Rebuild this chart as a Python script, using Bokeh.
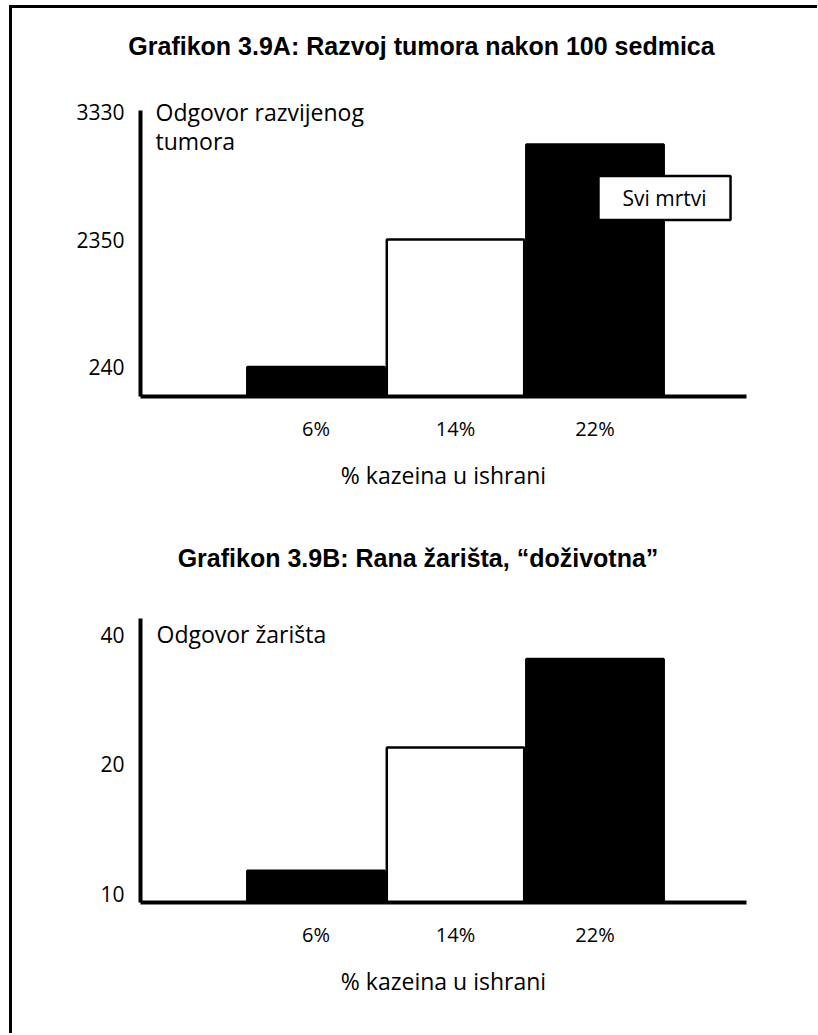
import numpy as np
from bokeh.plotting import figure
from bokeh.models import Label, FixedTicker, Range1d, BasicTickFormatter, ColumnDataSource
from bokeh.layouts import column
from bokeh.embed import file_html
from bokeh.resources import INLINE

# ---- data ----
categories = ["6%", "14%", "22%"]
bar_fills = ["black", "white", "black"]

title_a = "Grafikon 3.9A: Razvoj tumora nakon 100 sedmica"
ylabel_a = "Odgovor razvijenog\ntumora"
tumor_ticks = [240, 2350, 3330]
tumor_values = [240, 2350, 3080]
note_a = "Svi mrtvi"

title_b = "Grafikon 3.9B: Rana žarišta, “doživotna”"
ylabel_b = "Odgovor žarišta"
foci_ticks = [10, 20, 40]
foci_values = [11.3, 21.9, 35.2]

xlabel = "% kazeina u ishrani"

# ---- styles ----
FONT = "Open Sans"
TFONT = "Liberation Sans"
W = 805
XR = (-0.258, 4.086)


def header(text, x, y, height):
    h = figure(width=W, height=height, x_range=Range1d(0, 1), y_range=Range1d(0, 1),
               x_axis_location=None, y_axis_location=None, output_backend="svg",
               toolbar_location=None, title=None, min_border=0, frame_align=False)
    h.outline_line_color = None
    h.xgrid.visible = False
    h.ygrid.visible = False
    h.add_layout(Label(x=x, y=y, x_units="screen", y_units="screen", text=text,
                       text_align="center", text_baseline="middle", text_font=TFONT,
                       text_font_style="bold", text_font_size="25px", text_color="black"))
    return h


def style(p):
    p.outline_line_color = None
    p.xgrid.visible = False
    p.ygrid.visible = False
    p.background_fill_color = "white"
    p.border_fill_color = "white"
    for ax in (p.xaxis[0], p.yaxis[0]):
        ax.axis_line_width = 4
        ax.axis_line_color = "black"
        ax.major_tick_line_color = None
        ax.minor_tick_line_color = None
        ax.major_tick_out = 0
        ax.major_tick_in = 0
        ax.minor_tick_out = 0
        ax.major_label_text_font = FONT
        ax.major_label_text_color = "black"
        ax.major_label_text_font_size = "20px"
    p.yaxis[0].major_label_text_font_size = "21px"
    xa = p.xaxis[0]
    xa.ticker = FixedTicker(ticks=[1, 2, 3])
    xa.major_label_overrides = {i + 1: c for i, c in enumerate(categories)}
    xa.major_label_standoff = 18
    xa.axis_label = xlabel
    xa.axis_label_text_font = FONT
    xa.axis_label_text_font_style = "normal"
    xa.axis_label_text_font_size = "23px"
    xa.axis_label_text_color = "black"
    xa.axis_label_standoff = 14
    p.yaxis[0].major_label_standoff = 16


# ---- chart A ----
ha = header(title_a, 409, 48, 85)

ya_start, ya_end = -0.231, 2.145
pa = figure(width=W, height=422, x_range=Range1d(*XR), y_range=Range1d(ya_start, ya_end),
            output_backend="svg", toolbar_location=None, title=None,
            min_border_left=128, min_border_right=71, min_border_top=0, min_border_bottom=119)
style(pa)
idx = list(range(len(tumor_ticks)))
pos_a = np.interp(tumor_values, tumor_ticks, idx)
src_a = ColumnDataSource(dict(x=[1, 2, 3], top=pos_a, fill=bar_fills))
pa.vbar(x="x", top="top", bottom=ya_start, width=0.985, source=src_a,
        fill_color="fill", line_color="black", line_width=2.5)
pa.yaxis[0].ticker = FixedTicker(ticks=idx)
pa.yaxis[0].bounds = (ya_start, idx[-1] + 0.01)
pa.yaxis[0].major_label_overrides = {i: str(v) for i, v in zip(idx, tumor_ticks)}

pa.add_layout(Label(x=15, y=270, x_units="screen", y_units="screen", text=ylabel_a,
                    text_align="left", text_baseline="middle", text_font=FONT,
                    text_font_size="23px", text_line_height=0.89, text_color="black"))
pa.add_layout(Label(x=524, y=198.5, x_units="screen", y_units="screen", text=note_a,
                    text_align="center", text_baseline="middle", text_font=FONT,
                    text_font_size="21px", text_color="black",
                    background_fill_color="white", border_line_color="black",
                    border_line_width=2.5, padding=(24, 8)))

# ---- chart B ----
hb = header(title_b, 405.5, 43, 85)

yb_start, yb_end = 9.53, 48.2
pb = figure(width=W, height=433, x_range=Range1d(*XR), y_range=Range1d(yb_start, yb_end),
            y_axis_type="log", output_backend="svg", toolbar_location=None, title=None,
            min_border_left=128, min_border_right=71, min_border_top=0, min_border_bottom=131)
style(pb)
src_b = ColumnDataSource(dict(x=[1, 2, 3], top=foci_values, fill=bar_fills))
pb.vbar(x="x", top="top", bottom=yb_start, width=0.985, source=src_b,
        fill_color="fill", line_color="black", line_width=2.5)
pb.yaxis[0].ticker = FixedTicker(ticks=foci_ticks)
pb.yaxis[0].bounds = (yb_start, 43.8)
pb.yaxis[0].formatter = BasicTickFormatter()
pb.yaxis[0].major_label_overrides = {v: str(v) for v in foci_ticks}

pb.add_layout(Label(x=16, y=269, x_units="screen", y_units="screen", text=ylabel_b,
                    text_align="left", text_baseline="middle", text_font=FONT,
                    text_font_size="23px", text_color="black"))

layout = column(ha, pa, hb, pb, margin=(5, 0, 0, 9),
                styles={"border-top": "3px solid black", "border-left": "3px solid black"})

open("out.html", "w").write(file_html(layout, INLINE))
